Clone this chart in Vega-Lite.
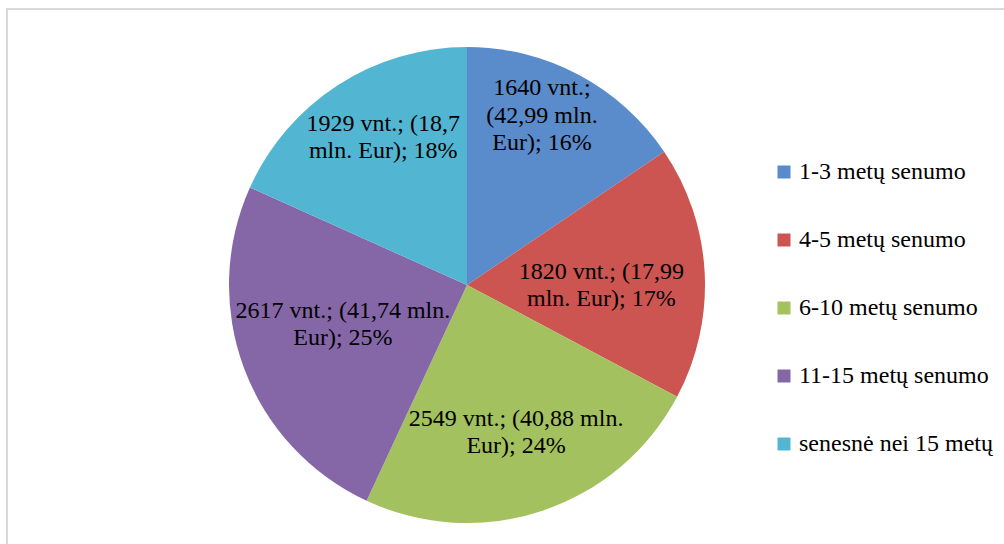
{
  "$schema": "https://vega.github.io/schema/vega-lite/v6.json",
  "width": 997,
  "height": 552,
  "autosize": {"type": "none"},
  "padding": {"left": 7, "top": 9, "right": 0, "bottom": 0},
  "background": "white",
  "view": {"stroke": "#d9d9d9", "strokeWidth": 2, "strokeDash": [997, 1549, 552]},
  "config": {
    "font": "Liberation Serif"
  },
  "data": {
    "values": [
      {"order": 1, "cat": "1-3 metų senumo", "vnt": 1640, "label": "1640 vnt.;\n(42,99 mln.\nEur); 16%"},
      {"order": 2, "cat": "4-5 metų senumo", "vnt": 1820, "label": "1820 vnt.; (17,99\nmln. Eur); 17%"},
      {"order": 3, "cat": "6-10 metų senumo", "vnt": 2549, "label": "2549 vnt.; (40,88 mln.\nEur); 24%"},
      {"order": 4, "cat": "11-15 metų senumo", "vnt": 2617, "label": "2617 vnt.; (41,74 mln.\nEur); 25%"},
      {"order": 5, "cat": "senesnė nei 15 metų", "vnt": 1929, "label": "1929 vnt.; (18,7\nmln. Eur); 18%"}
    ]
  },
  "layer": [
    {
      "mark": {"type": "arc", "outerRadius": 238, "xOffset": -38.5},
      "encoding": {
        "theta": {"field": "vnt", "type": "quantitative", "stack": true},
        "order": {"field": "order", "type": "quantitative"},
        "color": {
          "field": "cat",
          "type": "nominal",
          "sort": ["1-3 metų senumo", "4-5 metų senumo", "6-10 metų senumo", "11-15 metų senumo", "senesnė nei 15 metų"],
          "scale": {
            "domain": ["1-3 metų senumo", "4-5 metų senumo", "6-10 metų senumo", "11-15 metų senumo", "senesnė nei 15 metų"],
            "range": ["#5A8BCB", "#CC5451", "#A3C15E", "#8567A8", "#52B6D3"]
          },
          "legend": {
            "title": null,
            "orient": "none",
            "legendX": 765,
            "legendY": 151,
            "symbolType": "square",
            "symbolSize": 169,
            "symbolStrokeWidth": 0,
            "labelFont": "Liberation Serif",
            "labelFontSize": 24,
            "labelColor": "#000000",
            "labelOffset": 3,
            "rowPadding": 44,
            "labelLimit": 300
          }
        }
      }
    },
    {
      "mark": {"type": "text", "radius": 209, "xOffset": -38.5, "dx": -23, "dy": -12, "fontSize": 24, "font": "Liberation Serif", "lineBreak": "\n", "lineHeight": 27.5, "align": "center", "baseline": "middle", "color": "#000000"},
      "encoding": {
        "theta": {"field": "vnt", "type": "quantitative", "stack": true},
        "order": {"field": "order", "type": "quantitative"},
        "text": {"condition": {"test": "datum.order == 1", "field": "label"}, "value": ""}
      }
    },
    {
      "mark": {"type": "text", "radius": 134.5, "xOffset": -38.5, "dx": 0, "dy": -6, "fontSize": 24, "font": "Liberation Serif", "lineBreak": "\n", "lineHeight": 27.5, "align": "center", "baseline": "middle", "color": "#000000"},
      "encoding": {
        "theta": {"field": "vnt", "type": "quantitative", "stack": true},
        "order": {"field": "order", "type": "quantitative"},
        "text": {"condition": {"test": "datum.order == 2", "field": "label"}, "value": ""}
      }
    },
    {
      "mark": {"type": "text", "radius": 142, "xOffset": -38.5, "dx": 4, "dy": -1, "fontSize": 24, "font": "Liberation Serif", "lineBreak": "\n", "lineHeight": 27.5, "align": "center", "baseline": "middle", "color": "#000000"},
      "encoding": {
        "theta": {"field": "vnt", "type": "quantitative", "stack": true},
        "order": {"field": "order", "type": "quantitative"},
        "text": {"condition": {"test": "datum.order == 3", "field": "label"}, "value": ""}
      }
    },
    {
      "mark": {"type": "text", "radius": 126, "xOffset": -38.5, "dx": -6, "dy": -18, "fontSize": 24, "font": "Liberation Serif", "lineBreak": "\n", "lineHeight": 27.5, "align": "center", "baseline": "middle", "color": "#000000"},
      "encoding": {
        "theta": {"field": "vnt", "type": "quantitative", "stack": true},
        "order": {"field": "order", "type": "quantitative"},
        "text": {"condition": {"test": "datum.order == 4", "field": "label"}, "value": ""}
      }
    },
    {
      "mark": {"type": "text", "radius": 180, "xOffset": -38.5, "dx": 14, "dy": -10, "fontSize": 24, "font": "Liberation Serif", "lineBreak": "\n", "lineHeight": 27.5, "align": "center", "baseline": "middle", "color": "#000000"},
      "encoding": {
        "theta": {"field": "vnt", "type": "quantitative", "stack": true},
        "order": {"field": "order", "type": "quantitative"},
        "text": {"condition": {"test": "datum.order == 5", "field": "label"}, "value": ""}
      }
    }
  ]
}
